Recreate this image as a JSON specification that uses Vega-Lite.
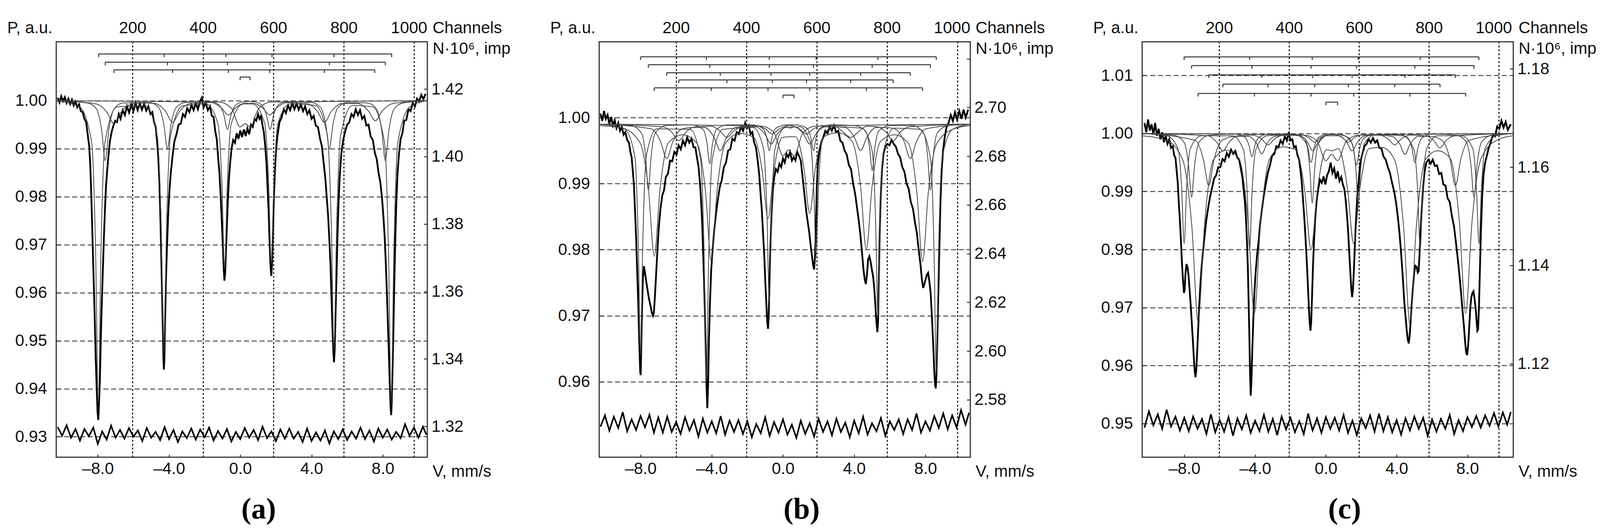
{
"$schema":"https://vega.github.io/schema/vega-lite/v6.json",
"background":"white",
"padding":{"left":16,"top":48,"right":5,"bottom":5},
"spacing":440,
"bounds":"flush",
"config":{
"view":{"stroke":"#333","strokeWidth":3},
"axis":{"labelFont":"Liberation Sans","labelFontSize":42,"labelColor":"#111","titleFont":"Liberation Sans","titleFontSize":42,"titleFontWeight":"normal","titleColor":"#111","domain":false,"tickColor":"#333","tickWidth":2.5,"labelOverlap":false}
},
"datasets":{
"ae":[{"v":-10.25,"p":1.0006},{"v":-10.15,"p":0.9996},{"v":-10.05,"p":1.0009},{"v":-9.95,"p":0.9999},{"v":-9.85,"p":1.0007},{"v":-9.75,"p":0.9995},{"v":-9.65,"p":1.0004},{"v":-9.55,"p":0.9993},{"v":-9.45,"p":1.0002},{"v":-9.35,"p":0.999},{"v":-9.25,"p":0.9998},{"v":-9.15,"p":0.9986},{"v":-9.05,"p":0.9992},{"v":-8.95,"p":0.9978},{"v":-8.85,"p":0.9976},{"v":-8.75,"p":0.9962},{"v":-8.65,"p":0.9955},{"v":-8.55,"p":0.9925},{"v":-8.48,"p":0.9905},{"v":-8.42,"p":0.9865},{"v":-8.36,"p":0.98},{"v":-8.3,"p":0.972},{"v":-8.24,"p":0.964},{"v":-8.18,"p":0.956},{"v":-8.12,"p":0.947},{"v":-8.06,"p":0.94},{"v":-8.01,"p":0.935},{"v":-7.97,"p":0.9335},{"v":-7.93,"p":0.937},{"v":-7.88,"p":0.942},{"v":-7.83,"p":0.95},{"v":-7.78,"p":0.957},{"v":-7.72,"p":0.964},{"v":-7.66,"p":0.971},{"v":-7.6,"p":0.977},{"v":-7.54,"p":0.982},{"v":-7.47,"p":0.9855},{"v":-7.4,"p":0.9885},{"v":-7.32,"p":0.9915},{"v":-7.22,"p":0.9935},{"v":-7.12,"p":0.9948},{"v":-7.02,"p":0.9958},{"v":-6.92,"p":0.9955},{"v":-6.82,"p":0.9972},{"v":-6.72,"p":0.9962},{"v":-6.6,"p":0.998},{"v":-6.48,"p":0.997},{"v":-6.36,"p":0.9988},{"v":-6.24,"p":0.9975},{"v":-6.12,"p":0.9992},{"v":-6,"p":0.9978},{"v":-5.88,"p":0.9995},{"v":-5.76,"p":0.998},{"v":-5.64,"p":0.9994},{"v":-5.52,"p":0.9981},{"v":-5.4,"p":0.9993},{"v":-5.28,"p":0.9979},{"v":-5.16,"p":0.9988},{"v":-5.04,"p":0.9972},{"v":-4.94,"p":0.9976},{"v":-4.84,"p":0.9955},{"v":-4.75,"p":0.9945},{"v":-4.67,"p":0.9915},{"v":-4.6,"p":0.988},{"v":-4.54,"p":0.983},{"v":-4.48,"p":0.975},{"v":-4.42,"p":0.965},{"v":-4.37,"p":0.956},{"v":-4.32,"p":0.947},{"v":-4.29,"p":0.944},{"v":-4.26,"p":0.946},{"v":-4.22,"p":0.954},{"v":-4.17,"p":0.963},{"v":-4.11,"p":0.97},{"v":-4.05,"p":0.976},{"v":-3.98,"p":0.981},{"v":-3.9,"p":0.985},{"v":-3.8,"p":0.9885},{"v":-3.7,"p":0.9915},{"v":-3.58,"p":0.993},{"v":-3.46,"p":0.995},{"v":-3.34,"p":0.9952},{"v":-3.22,"p":0.9972},{"v":-3.1,"p":0.9966},{"v":-2.98,"p":0.9984},{"v":-2.86,"p":0.9976},{"v":-2.74,"p":0.9991},{"v":-2.62,"p":0.998},{"v":-2.5,"p":0.9995},{"v":-2.38,"p":0.9982},{"v":-2.26,"p":0.9998},{"v":-2.16,"p":1.0006},{"v":-2.06,"p":0.9986},{"v":-1.94,"p":0.9996},{"v":-1.82,"p":0.998},{"v":-1.7,"p":0.9988},{"v":-1.6,"p":0.9968},{"v":-1.5,"p":0.9966},{"v":-1.4,"p":0.9935},{"v":-1.32,"p":0.992},{"v":-1.24,"p":0.988},{"v":-1.17,"p":0.985},{"v":-1.1,"p":0.98},{"v":-1.04,"p":0.975},{"v":-0.98,"p":0.97},{"v":-0.93,"p":0.965},{"v":-0.89,"p":0.9625},{"v":-0.85,"p":0.964},{"v":-0.8,"p":0.969},{"v":-0.75,"p":0.974},{"v":-0.7,"p":0.979},{"v":-0.64,"p":0.9835},{"v":-0.57,"p":0.987},{"v":-0.49,"p":0.99},{"v":-0.4,"p":0.9918},{"v":-0.3,"p":0.9912},{"v":-0.2,"p":0.9932},{"v":-0.1,"p":0.992},{"v":0,"p":0.9938},{"v":0.1,"p":0.9924},{"v":0.2,"p":0.994},{"v":0.3,"p":0.9926},{"v":0.4,"p":0.9942},{"v":0.5,"p":0.993},{"v":0.6,"p":0.995},{"v":0.7,"p":0.9945},{"v":0.8,"p":0.9962},{"v":0.9,"p":0.9958},{"v":1,"p":0.9972},{"v":1.08,"p":0.9962},{"v":1.16,"p":0.9968},{"v":1.24,"p":0.995},{"v":1.32,"p":0.9935},{"v":1.4,"p":0.9905},{"v":1.47,"p":0.987},{"v":1.53,"p":0.982},{"v":1.59,"p":0.977},{"v":1.64,"p":0.971},{"v":1.69,"p":0.966},{"v":1.74,"p":0.9635},{"v":1.78,"p":0.966},{"v":1.83,"p":0.972},{"v":1.88,"p":0.979},{"v":1.94,"p":0.985},{"v":2.01,"p":0.99},{"v":2.1,"p":0.993},{"v":2.2,"p":0.9955},{"v":2.32,"p":0.9965},{"v":2.44,"p":0.9982},{"v":2.56,"p":0.9974},{"v":2.68,"p":0.999},{"v":2.8,"p":0.998},{"v":2.92,"p":0.9995},{"v":3.04,"p":0.9982},{"v":3.16,"p":0.9994},{"v":3.28,"p":0.9981},{"v":3.4,"p":0.9992},{"v":3.52,"p":0.9978},{"v":3.64,"p":0.9988},{"v":3.76,"p":0.9972},{"v":3.88,"p":0.998},{"v":4,"p":0.9962},{"v":4.12,"p":0.9968},{"v":4.24,"p":0.9948},{"v":4.36,"p":0.9945},{"v":4.48,"p":0.992},{"v":4.58,"p":0.9905},{"v":4.68,"p":0.987},{"v":4.77,"p":0.984},{"v":4.85,"p":0.98},{"v":4.93,"p":0.976},{"v":5,"p":0.971},{"v":5.06,"p":0.966},{"v":5.12,"p":0.959},{"v":5.17,"p":0.953},{"v":5.22,"p":0.948},{"v":5.26,"p":0.9455},{"v":5.3,"p":0.948},{"v":5.35,"p":0.956},{"v":5.4,"p":0.963},{"v":5.45,"p":0.971},{"v":5.51,"p":0.978},{"v":5.58,"p":0.984},{"v":5.66,"p":0.9885},{"v":5.76,"p":0.9915},{"v":5.88,"p":0.9935},{"v":6,"p":0.995},{"v":6.12,"p":0.9955},{"v":6.24,"p":0.9972},{"v":6.36,"p":0.9966},{"v":6.48,"p":0.9982},{"v":6.6,"p":0.997},{"v":6.72,"p":0.998},{"v":6.84,"p":0.9962},{"v":6.96,"p":0.9968},{"v":7.08,"p":0.9948},{"v":7.2,"p":0.995},{"v":7.32,"p":0.9925},{"v":7.44,"p":0.9918},{"v":7.56,"p":0.989},{"v":7.66,"p":0.9878},{"v":7.76,"p":0.985},{"v":7.86,"p":0.983},{"v":7.95,"p":0.98},{"v":8.03,"p":0.976},{"v":8.1,"p":0.972},{"v":8.17,"p":0.966},{"v":8.23,"p":0.96},{"v":8.29,"p":0.953},{"v":8.35,"p":0.946},{"v":8.4,"p":0.94},{"v":8.44,"p":0.936},{"v":8.47,"p":0.9345},{"v":8.5,"p":0.937},{"v":8.54,"p":0.943},{"v":8.59,"p":0.951},{"v":8.64,"p":0.961},{"v":8.7,"p":0.971},{"v":8.76,"p":0.979},{"v":8.83,"p":0.985},{"v":8.91,"p":0.989},{"v":9,"p":0.992},{"v":9.1,"p":0.9932},{"v":9.2,"p":0.9958},{"v":9.32,"p":0.996},{"v":9.44,"p":0.9982},{"v":9.56,"p":0.9978},{"v":9.68,"p":0.9995},{"v":9.8,"p":0.9988},{"v":9.92,"p":1.0004},{"v":10.04,"p":0.9998},{"v":10.16,"p":1.0012},{"v":10.28,"p":1.0003},{"v":10.4,"p":1.0014}],
"ar":[{"v":-10.25,"p":0.932},{"v":-10,"p":0.9302},{"v":-9.75,"p":0.9324},{"v":-9.5,"p":0.9298},{"v":-9.25,"p":0.9316},{"v":-9,"p":0.9292},{"v":-8.75,"p":0.9316},{"v":-8.5,"p":0.9301},{"v":-8.25,"p":0.9319},{"v":-8,"p":0.9285},{"v":-7.75,"p":0.9311},{"v":-7.5,"p":0.9294},{"v":-7.25,"p":0.9323},{"v":-7,"p":0.9298},{"v":-6.75,"p":0.9314},{"v":-6.5,"p":0.9296},{"v":-6.25,"p":0.9318},{"v":-6,"p":0.93},{"v":-5.75,"p":0.9313},{"v":-5.5,"p":0.9291},{"v":-5.25,"p":0.9318},{"v":-5,"p":0.9298},{"v":-4.75,"p":0.931},{"v":-4.5,"p":0.9293},{"v":-4.25,"p":0.932},{"v":-4,"p":0.9295},{"v":-3.75,"p":0.9314},{"v":-3.5,"p":0.9289},{"v":-3.25,"p":0.9311},{"v":-3,"p":0.9297},{"v":-2.75,"p":0.9317},{"v":-2.5,"p":0.9294},{"v":-2.25,"p":0.9315},{"v":-2,"p":0.9299},{"v":-1.75,"p":0.9319},{"v":-1.5,"p":0.9292},{"v":-1.25,"p":0.9312},{"v":-1,"p":0.9296},{"v":-0.75,"p":0.9316},{"v":-0.5,"p":0.929},{"v":-0.25,"p":0.931},{"v":0,"p":0.9295},{"v":0.25,"p":0.9318},{"v":0.5,"p":0.9298},{"v":0.75,"p":0.9314},{"v":1,"p":0.9293},{"v":1.25,"p":0.9321},{"v":1.5,"p":0.9297},{"v":1.75,"p":0.9311},{"v":2,"p":0.9291},{"v":2.25,"p":0.9315},{"v":2.5,"p":0.9296},{"v":2.75,"p":0.9317},{"v":3,"p":0.9296},{"v":3.25,"p":0.931},{"v":3.5,"p":0.9289},{"v":3.75,"p":0.9317},{"v":4,"p":0.9291},{"v":4.25,"p":0.9309},{"v":4.5,"p":0.9292},{"v":4.75,"p":0.9313},{"v":5,"p":0.9286},{"v":5.25,"p":0.9311},{"v":5.5,"p":0.9295},{"v":5.75,"p":0.9315},{"v":6,"p":0.9293},{"v":6.25,"p":0.9311},{"v":6.5,"p":0.9296},{"v":6.75,"p":0.9319},{"v":7,"p":0.9295},{"v":7.25,"p":0.9313},{"v":7.5,"p":0.929},{"v":7.75,"p":0.9317},{"v":8,"p":0.9298},{"v":8.25,"p":0.9315},{"v":8.5,"p":0.9294},{"v":8.75,"p":0.931},{"v":9,"p":0.9297},{"v":9.25,"p":0.9326},{"v":9.5,"p":0.9302},{"v":9.75,"p":0.9319},{"v":10,"p":0.9298},{"v":10.25,"p":0.9321},{"v":10.45,"p":0.9304}],
"ac":[{"k":"1","v":-10.33,"p":1},{"k":"1","v":-9.02,"p":0.9987},{"k":"1","v":-8.345,"p":0.9913},{"k":"1","v":-8.12,"p":0.9685},{"k":"1","v":-7.97,"p":0.937},{"k":"1","v":-7.82,"p":0.9685},{"k":"1","v":-7.595,"p":0.9913},{"k":"1","v":-6.92,"p":0.9987},{"k":"1","v":-5.34,"p":0.9989},{"k":"1","v":-4.665,"p":0.9927},{"k":"1","v":-4.44,"p":0.9735},{"k":"1","v":-4.29,"p":0.947},{"k":"1","v":-4.14,"p":0.9735},{"k":"1","v":-3.915,"p":0.9927},{"k":"1","v":-3.24,"p":0.9989},{"k":"1","v":-1.93,"p":0.9993},{"k":"1","v":-1.255,"p":0.9952},{"k":"1","v":-1.03,"p":0.9825},{"k":"1","v":-0.88,"p":0.965},{"k":"1","v":-0.73,"p":0.9825},{"k":"1","v":-0.505,"p":0.9952},{"k":"1","v":0.17,"p":0.9993},{"k":"1","v":0.69,"p":0.9993},{"k":"1","v":1.365,"p":0.9953},{"k":"1","v":1.59,"p":0.983},{"k":"1","v":1.74,"p":0.966},{"k":"1","v":1.89,"p":0.983},{"k":"1","v":2.115,"p":0.9953},{"k":"1","v":2.79,"p":0.9993},{"k":"1","v":4.21,"p":0.999},{"k":"1","v":4.885,"p":0.9928},{"k":"1","v":5.11,"p":0.974},{"k":"1","v":5.26,"p":0.948},{"k":"1","v":5.41,"p":0.974},{"k":"1","v":5.635,"p":0.9928},{"k":"1","v":6.31,"p":0.999},{"k":"1","v":7.42,"p":0.9987},{"k":"1","v":8.095,"p":0.9913},{"k":"1","v":8.32,"p":0.9685},{"k":"1","v":8.47,"p":0.937},{"k":"1","v":8.62,"p":0.9685},{"k":"1","v":8.845,"p":0.9913},{"k":"1","v":9.52,"p":0.9987},{"k":"1","v":10.5,"p":1},
{"k":"2","v":-10.33,"p":1},{"k":"2","v":-8.58,"p":0.9995},{"k":"2","v":-8.08,"p":0.9983},{"k":"2","v":-7.78,"p":0.9938},{"k":"2","v":-7.58,"p":0.9875},{"k":"2","v":-7.38,"p":0.9938},{"k":"2","v":-7.08,"p":0.9983},{"k":"2","v":-6.58,"p":0.9995},{"k":"2","v":-5.09,"p":0.9996},{"k":"2","v":-4.59,"p":0.9986},{"k":"2","v":-4.29,"p":0.995},{"k":"2","v":-4.09,"p":0.99},{"k":"2","v":-3.89,"p":0.995},{"k":"2","v":-3.59,"p":0.9986},{"k":"2","v":-3.09,"p":0.9996},{"k":"2","v":-1.72,"p":0.9998},{"k":"2","v":-1.22,"p":0.9992},{"k":"2","v":-0.92,"p":0.997},{"k":"2","v":-0.72,"p":0.994},{"k":"2","v":-0.52,"p":0.997},{"k":"2","v":-0.22,"p":0.9992},{"k":"2","v":0.28,"p":0.9998},{"k":"2","v":0.67,"p":0.9998},{"k":"2","v":1.17,"p":0.9992},{"k":"2","v":1.47,"p":0.997},{"k":"2","v":1.67,"p":0.994},{"k":"2","v":1.87,"p":0.997},{"k":"2","v":2.17,"p":0.9992},{"k":"2","v":2.67,"p":0.9998},{"k":"2","v":4,"p":0.9996},{"k":"2","v":4.5,"p":0.9986},{"k":"2","v":4.8,"p":0.995},{"k":"2","v":5,"p":0.99},{"k":"2","v":5.2,"p":0.995},{"k":"2","v":5.5,"p":0.9986},{"k":"2","v":6,"p":0.9996},{"k":"2","v":7.14,"p":0.9995},{"k":"2","v":7.64,"p":0.9983},{"k":"2","v":7.94,"p":0.9938},{"k":"2","v":8.14,"p":0.9875},{"k":"2","v":8.34,"p":0.9938},{"k":"2","v":8.64,"p":0.9983},{"k":"2","v":9.14,"p":0.9995},{"k":"2","v":10.5,"p":1},
{"k":"3","v":-10.33,"p":1},{"k":"3","v":-8.09,"p":0.9993},{"k":"3","v":-7.49,"p":0.9976},{"k":"3","v":-7.09,"p":0.9952},{"k":"3","v":-6.69,"p":0.9976},{"k":"3","v":-6.09,"p":0.9993},{"k":"3","v":-5.445,"p":0.9995},{"k":"3","v":-4.8,"p":0.9994},{"k":"3","v":-4.2,"p":0.9978},{"k":"3","v":-3.8,"p":0.9955},{"k":"3","v":-3.4,"p":0.9978},{"k":"3","v":-2.8,"p":0.9994},{"k":"3","v":-2.235,"p":0.9995},{"k":"3","v":-1.67,"p":0.9996},{"k":"3","v":-1.07,"p":0.9985},{"k":"3","v":-0.67,"p":0.997},{"k":"3","v":-0.27,"p":0.9985},{"k":"3","v":0.33,"p":0.9995},{"k":"3","v":0.49,"p":0.9994},{"k":"3","v":0.65,"p":0.9995},{"k":"3","v":1.25,"p":0.9985},{"k":"3","v":1.65,"p":0.997},{"k":"3","v":2.05,"p":0.9985},{"k":"3","v":2.65,"p":0.9996},{"k":"3","v":3.185,"p":0.9995},{"k":"3","v":3.72,"p":0.9994},{"k":"3","v":4.32,"p":0.9978},{"k":"3","v":4.72,"p":0.9955},{"k":"3","v":5.12,"p":0.9978},{"k":"3","v":5.72,"p":0.9994},{"k":"3","v":6.15,"p":0.9994},{"k":"3","v":6.58,"p":0.9994},{"k":"3","v":7.18,"p":0.9979},{"k":"3","v":7.58,"p":0.9958},{"k":"3","v":7.98,"p":0.9979},{"k":"3","v":8.58,"p":0.9994},{"k":"3","v":10.5,"p":1},
{"k":"d","v":-10.33,"p":1},{"k":"d","v":-1.2,"p":0.9997},{"k":"d","v":-0.5,"p":0.9984},{"k":"d","v":-0.01,"p":0.9945},{"k":"d","v":0.27,"p":0.9952},{"k":"d","v":0.55,"p":0.9945},{"k":"d","v":1.04,"p":0.9984},{"k":"d","v":1.75,"p":0.9997},{"k":"d","v":10.5,"p":1}],
"ab":[{"v":-7.95,"p":1.0097},{"v":-4.27,"p":1.0097},{"v":-0.81,"p":1.0097},{"v":1.78,"p":1.0097},{"v":5.26,"p":1.0097},{"v":8.5,"p":1.0097},{"v":-7.58,"p":1.008},{"v":-4.09,"p":1.008},{"v":-0.72,"p":1.008},{"v":1.67,"p":1.008},{"v":5,"p":1.008},{"v":8.14,"p":1.008},{"v":-7.09,"p":1.0064},{"v":-3.8,"p":1.0064},{"v":-0.67,"p":1.0064},{"v":1.65,"p":1.0064},{"v":4.72,"p":1.0064},{"v":7.55,"p":1.0064},{"v":-0.01,"p":1.0049},{"v":0.55,"p":1.0049}],
"be":[{"v":-10.25,"p":1.0006},{"v":-10.15,"p":0.9995},{"v":-10.05,"p":1.001},{"v":-9.95,"p":0.9998},{"v":-9.85,"p":1.0004},{"v":-9.75,"p":0.999},{"v":-9.65,"p":1.0001},{"v":-9.55,"p":0.9988},{"v":-9.45,"p":0.9996},{"v":-9.35,"p":0.9984},{"v":-9.25,"p":0.9992},{"v":-9.15,"p":0.998},{"v":-9.05,"p":0.9986},{"v":-8.95,"p":0.9974},{"v":-8.85,"p":0.9978},{"v":-8.75,"p":0.9966},{"v":-8.65,"p":0.9962},{"v":-8.57,"p":0.9948},{"v":-8.5,"p":0.994},{"v":-8.43,"p":0.9918},{"v":-8.37,"p":0.9898},{"v":-8.31,"p":0.986},{"v":-8.25,"p":0.982},{"v":-8.19,"p":0.977},{"v":-8.13,"p":0.972},{"v":-8.07,"p":0.966},{"v":-8.02,"p":0.9615},{"v":-7.99,"p":0.961},{"v":-7.96,"p":0.965},{"v":-7.92,"p":0.9705},{"v":-7.87,"p":0.9755},{"v":-7.81,"p":0.9775},{"v":-7.75,"p":0.9765},{"v":-7.68,"p":0.9752},{"v":-7.6,"p":0.9738},{"v":-7.52,"p":0.9725},{"v":-7.44,"p":0.9715},{"v":-7.37,"p":0.9705},{"v":-7.3,"p":0.97},{"v":-7.25,"p":0.9705},{"v":-7.19,"p":0.973},{"v":-7.12,"p":0.9765},{"v":-7.05,"p":0.98},{"v":-6.97,"p":0.9835},{"v":-6.88,"p":0.9862},{"v":-6.78,"p":0.9882},{"v":-6.68,"p":0.989},{"v":-6.58,"p":0.991},{"v":-6.46,"p":0.9915},{"v":-6.34,"p":0.9935},{"v":-6.22,"p":0.9934},{"v":-6.1,"p":0.9948},{"v":-5.98,"p":0.9944},{"v":-5.86,"p":0.9958},{"v":-5.74,"p":0.9952},{"v":-5.62,"p":0.9965},{"v":-5.5,"p":0.9958},{"v":-5.38,"p":0.997},{"v":-5.26,"p":0.9962},{"v":-5.14,"p":0.9968},{"v":-5.02,"p":0.9955},{"v":-4.92,"p":0.9955},{"v":-4.82,"p":0.9938},{"v":-4.74,"p":0.9925},{"v":-4.66,"p":0.99},{"v":-4.6,"p":0.9875},{"v":-4.54,"p":0.984},{"v":-4.49,"p":0.98},{"v":-4.44,"p":0.976},{"v":-4.39,"p":0.971},{"v":-4.34,"p":0.965},{"v":-4.29,"p":0.959},{"v":-4.25,"p":0.956},{"v":-4.21,"p":0.959},{"v":-4.16,"p":0.966},{"v":-4.1,"p":0.972},{"v":-4.03,"p":0.977},{"v":-3.95,"p":0.98},{"v":-3.86,"p":0.983},{"v":-3.76,"p":0.9855},{"v":-3.66,"p":0.9875},{"v":-3.55,"p":0.9895},{"v":-3.44,"p":0.9905},{"v":-3.32,"p":0.9925},{"v":-3.2,"p":0.9932},{"v":-3.08,"p":0.995},{"v":-2.96,"p":0.9952},{"v":-2.84,"p":0.9968},{"v":-2.72,"p":0.9965},{"v":-2.6,"p":0.9978},{"v":-2.48,"p":0.9975},{"v":-2.36,"p":0.9986},{"v":-2.24,"p":0.998},{"v":-2.12,"p":0.9992},{"v":-2.02,"p":0.9984},{"v":-1.92,"p":0.9988},{"v":-1.82,"p":0.9975},{"v":-1.72,"p":0.9978},{"v":-1.62,"p":0.9962},{"v":-1.52,"p":0.9955},{"v":-1.42,"p":0.9935},{"v":-1.34,"p":0.9915},{"v":-1.26,"p":0.9885},{"v":-1.19,"p":0.986},{"v":-1.12,"p":0.9825},{"v":-1.05,"p":0.979},{"v":-0.99,"p":0.975},{"v":-0.93,"p":0.9715},{"v":-0.88,"p":0.969},{"v":-0.84,"p":0.968},{"v":-0.8,"p":0.97},{"v":-0.75,"p":0.976},{"v":-0.7,"p":0.981},{"v":-0.64,"p":0.9855},{"v":-0.57,"p":0.989},{"v":-0.49,"p":0.991},{"v":-0.4,"p":0.9922},{"v":-0.3,"p":0.9918},{"v":-0.2,"p":0.993},{"v":-0.1,"p":0.9925},{"v":0,"p":0.9938},{"v":0.1,"p":0.9932},{"v":0.2,"p":0.9945},{"v":0.3,"p":0.994},{"v":0.4,"p":0.9948},{"v":0.5,"p":0.9935},{"v":0.6,"p":0.994},{"v":0.7,"p":0.9935},{"v":0.8,"p":0.9948},{"v":0.9,"p":0.9942},{"v":1,"p":0.9935},{"v":1.08,"p":0.9915},{"v":1.16,"p":0.9895},{"v":1.24,"p":0.9875},{"v":1.32,"p":0.9855},{"v":1.4,"p":0.984},{"v":1.48,"p":0.9825},{"v":1.56,"p":0.9805},{"v":1.63,"p":0.979},{"v":1.7,"p":0.9775},{"v":1.75,"p":0.977},{"v":1.8,"p":0.979},{"v":1.85,"p":0.984},{"v":1.9,"p":0.9895},{"v":1.96,"p":0.993},{"v":2.04,"p":0.995},{"v":2.14,"p":0.9962},{"v":2.26,"p":0.997},{"v":2.38,"p":0.998},{"v":2.5,"p":0.9976},{"v":2.62,"p":0.9986},{"v":2.74,"p":0.998},{"v":2.86,"p":0.9988},{"v":2.98,"p":0.9978},{"v":3.1,"p":0.998},{"v":3.22,"p":0.9965},{"v":3.34,"p":0.9962},{"v":3.46,"p":0.995},{"v":3.58,"p":0.9944},{"v":3.7,"p":0.9928},{"v":3.82,"p":0.9922},{"v":3.94,"p":0.99},{"v":4.05,"p":0.9885},{"v":4.15,"p":0.9865},{"v":4.25,"p":0.9845},{"v":4.35,"p":0.9822},{"v":4.44,"p":0.9795},{"v":4.52,"p":0.977},{"v":4.59,"p":0.9755},{"v":4.65,"p":0.9748},{"v":4.71,"p":0.976},{"v":4.78,"p":0.9785},{"v":4.85,"p":0.979},{"v":4.92,"p":0.9782},{"v":4.99,"p":0.977},{"v":5.06,"p":0.976},{"v":5.13,"p":0.974},{"v":5.19,"p":0.9715},{"v":5.25,"p":0.969},{"v":5.3,"p":0.9675},{"v":5.34,"p":0.969},{"v":5.38,"p":0.975},{"v":5.43,"p":0.982},{"v":5.49,"p":0.988},{"v":5.56,"p":0.992},{"v":5.64,"p":0.9945},{"v":5.74,"p":0.9955},{"v":5.86,"p":0.996},{"v":5.98,"p":0.9958},{"v":6.1,"p":0.9966},{"v":6.22,"p":0.996},{"v":6.34,"p":0.9956},{"v":6.46,"p":0.9945},{"v":6.58,"p":0.994},{"v":6.7,"p":0.9925},{"v":6.82,"p":0.9918},{"v":6.94,"p":0.99},{"v":7.06,"p":0.9892},{"v":7.18,"p":0.9872},{"v":7.3,"p":0.9862},{"v":7.42,"p":0.984},{"v":7.52,"p":0.9825},{"v":7.62,"p":0.98},{"v":7.72,"p":0.9778},{"v":7.8,"p":0.9755},{"v":7.87,"p":0.9742},{"v":7.94,"p":0.9748},{"v":8.01,"p":0.9755},{"v":8.08,"p":0.9762},{"v":8.15,"p":0.9765},{"v":8.22,"p":0.9752},{"v":8.29,"p":0.9735},{"v":8.36,"p":0.97},{"v":8.43,"p":0.966},{"v":8.49,"p":0.962},{"v":8.54,"p":0.9595},{"v":8.58,"p":0.959},{"v":8.62,"p":0.961},{"v":8.67,"p":0.9665},{"v":8.72,"p":0.973},{"v":8.78,"p":0.98},{"v":8.84,"p":0.987},{"v":8.91,"p":0.992},{"v":8.99,"p":0.995},{"v":9.08,"p":0.997},{"v":9.18,"p":0.9985},{"v":9.3,"p":0.9992},{"v":9.42,"p":1.0004},{"v":9.54,"p":0.9995},{"v":9.66,"p":1.0008},{"v":9.78,"p":0.9997},{"v":9.9,"p":1.001},{"v":10.02,"p":0.9998},{"v":10.14,"p":1.0012},{"v":10.26,"p":1},{"v":10.4,"p":1.0012}],
"br":[{"v":-10.25,"p":0.9532},{"v":-10,"p":0.9549},{"v":-9.75,"p":0.9526},{"v":-9.5,"p":0.9547},{"v":-9.25,"p":0.953},{"v":-9,"p":0.9554},{"v":-8.75,"p":0.9525},{"v":-8.5,"p":0.9543},{"v":-8.25,"p":0.9527},{"v":-8,"p":0.9548},{"v":-7.75,"p":0.9531},{"v":-7.5,"p":0.955},{"v":-7.25,"p":0.9523},{"v":-7,"p":0.9546},{"v":-6.75,"p":0.9523},{"v":-6.5,"p":0.9547},{"v":-6.25,"p":0.9524},{"v":-6,"p":0.9539},{"v":-5.75,"p":0.9521},{"v":-5.5,"p":0.9546},{"v":-5.25,"p":0.9526},{"v":-5,"p":0.9542},{"v":-4.75,"p":0.9517},{"v":-4.5,"p":0.9544},{"v":-4.25,"p":0.9523},{"v":-4,"p":0.954},{"v":-3.75,"p":0.9522},{"v":-3.5,"p":0.9548},{"v":-3.25,"p":0.952},{"v":-3,"p":0.9541},{"v":-2.75,"p":0.9524},{"v":-2.5,"p":0.9542},{"v":-2.25,"p":0.9521},{"v":-2,"p":0.954},{"v":-1.75,"p":0.9516},{"v":-1.5,"p":0.9536},{"v":-1.25,"p":0.9522},{"v":-1,"p":0.9546},{"v":-0.75,"p":0.9518},{"v":-0.5,"p":0.9539},{"v":-0.25,"p":0.9523},{"v":0,"p":0.9543},{"v":0.25,"p":0.952},{"v":0.5,"p":0.9535},{"v":0.75,"p":0.9515},{"v":1,"p":0.9541},{"v":1.25,"p":0.9521},{"v":1.5,"p":0.9537},{"v":1.75,"p":0.9517},{"v":2,"p":0.9544},{"v":2.25,"p":0.9524},{"v":2.5,"p":0.954},{"v":2.75,"p":0.9519},{"v":3,"p":0.9544},{"v":3.25,"p":0.9524},{"v":3.5,"p":0.9538},{"v":3.75,"p":0.9516},{"v":4,"p":0.9541},{"v":4.25,"p":0.9522},{"v":4.5,"p":0.9547},{"v":4.75,"p":0.952},{"v":5,"p":0.9537},{"v":5.25,"p":0.9525},{"v":5.5,"p":0.9545},{"v":5.75,"p":0.9518},{"v":6,"p":0.954},{"v":6.25,"p":0.9527},{"v":6.5,"p":0.9543},{"v":6.75,"p":0.9521},{"v":7,"p":0.9543},{"v":7.25,"p":0.9527},{"v":7.5,"p":0.9552},{"v":7.75,"p":0.9523},{"v":8,"p":0.954},{"v":8.25,"p":0.9526},{"v":8.5,"p":0.9548},{"v":8.75,"p":0.953},{"v":9,"p":0.9552},{"v":9.25,"p":0.9528},{"v":9.5,"p":0.9549},{"v":9.75,"p":0.9531},{"v":10,"p":0.9557},{"v":10.25,"p":0.9535},{"v":10.45,"p":0.9553}],
"bc":[{"k":"1","v":-10.32,"p":0.999},{"k":"1","v":-8.91,"p":0.9983},{"k":"1","v":-8.325,"p":0.9942},{"k":"1","v":-8.13,"p":0.9815},{"k":"1","v":-8,"p":0.964},{"k":"1","v":-7.87,"p":0.9815},{"k":"1","v":-7.675,"p":0.9942},{"k":"1","v":-7.09,"p":0.9983},{"k":"1","v":-5.21,"p":0.9982},{"k":"1","v":-4.625,"p":0.9936},{"k":"1","v":-4.43,"p":0.9795},{"k":"1","v":-4.3,"p":0.96},{"k":"1","v":-4.17,"p":0.9795},{"k":"1","v":-3.975,"p":0.9936},{"k":"1","v":-3.39,"p":0.9982},{"k":"1","v":-1.68,"p":0.9985},{"k":"1","v":-1.095,"p":0.9953},{"k":"1","v":-0.9,"p":0.9855},{"k":"1","v":-0.77,"p":0.972},{"k":"1","v":-0.64,"p":0.9855},{"k":"1","v":-0.445,"p":0.9953},{"k":"1","v":0.14,"p":0.9985},{"k":"1","v":0.95,"p":0.9986},{"k":"1","v":1.535,"p":0.9962},{"k":"1","v":1.73,"p":0.989},{"k":"1","v":1.86,"p":0.979},{"k":"1","v":1.99,"p":0.989},{"k":"1","v":2.185,"p":0.9962},{"k":"1","v":2.77,"p":0.9986},{"k":"1","v":4.42,"p":0.9984},{"k":"1","v":5.005,"p":0.995},{"k":"1","v":5.2,"p":0.9845},{"k":"1","v":5.33,"p":0.97},{"k":"1","v":5.46,"p":0.9845},{"k":"1","v":5.655,"p":0.995},{"k":"1","v":6.24,"p":0.9984},{"k":"1","v":7.7,"p":0.9982},{"k":"1","v":8.285,"p":0.9938},{"k":"1","v":8.48,"p":0.9802},{"k":"1","v":8.61,"p":0.9614},{"k":"1","v":8.74,"p":0.9802},{"k":"1","v":8.935,"p":0.9938},{"k":"1","v":9.52,"p":0.9982},{"k":"1","v":10.52,"p":0.999},
{"k":"2","v":-10.32,"p":0.999},{"k":"2","v":-8.56,"p":0.9988},{"k":"2","v":-7.935,"p":0.9976},{"k":"2","v":-7.71,"p":0.994},{"k":"2","v":-7.56,"p":0.989},{"k":"2","v":-7.41,"p":0.994},{"k":"2","v":-7.185,"p":0.9976},{"k":"2","v":-6.56,"p":0.9988},{"k":"2","v":-5.11,"p":0.9989},{"k":"2","v":-4.485,"p":0.9982},{"k":"2","v":-4.26,"p":0.996},{"k":"2","v":-4.11,"p":0.993},{"k":"2","v":-3.96,"p":0.996},{"k":"2","v":-3.735,"p":0.9982},{"k":"2","v":-3.11,"p":0.9989},{"k":"2","v":-1.77,"p":0.9989},{"k":"2","v":-1.145,"p":0.9984},{"k":"2","v":-0.92,"p":0.997},{"k":"2","v":-0.77,"p":0.995},{"k":"2","v":-0.62,"p":0.997},{"k":"2","v":-0.395,"p":0.9984},{"k":"2","v":0.23,"p":0.9989},{"k":"2","v":0.71,"p":0.9989},{"k":"2","v":1.335,"p":0.9984},{"k":"2","v":1.56,"p":0.997},{"k":"2","v":1.71,"p":0.995},{"k":"2","v":1.86,"p":0.997},{"k":"2","v":2.085,"p":0.9984},{"k":"2","v":2.71,"p":0.9989},{"k":"2","v":4.01,"p":0.9988},{"k":"2","v":4.635,"p":0.998},{"k":"2","v":4.86,"p":0.9955},{"k":"2","v":5.01,"p":0.992},{"k":"2","v":5.16,"p":0.9955},{"k":"2","v":5.385,"p":0.998},{"k":"2","v":6.01,"p":0.9988},{"k":"2","v":7.28,"p":0.9988},{"k":"2","v":7.905,"p":0.9976},{"k":"2","v":8.13,"p":0.994},{"k":"2","v":8.28,"p":0.989},{"k":"2","v":8.43,"p":0.994},{"k":"2","v":8.655,"p":0.9976},{"k":"2","v":9.28,"p":0.9988},{"k":"2","v":10.52,"p":0.999},
{"k":"3","v":-10.32,"p":0.999},{"k":"3","v":-7.405,"p":0.9983},{"k":"3","v":-6.88,"p":0.9964},{"k":"3","v":-6.53,"p":0.9938},{"k":"3","v":-6.18,"p":0.9964},{"k":"3","v":-5.655,"p":0.9983},{"k":"3","v":-5.025,"p":0.9985},{"k":"3","v":-4.395,"p":0.9985},{"k":"3","v":-3.87,"p":0.997},{"k":"3","v":-3.52,"p":0.995},{"k":"3","v":-3.17,"p":0.997},{"k":"3","v":-2.645,"p":0.9985},{"k":"3","v":-2.095,"p":0.9986},{"k":"3","v":-1.545,"p":0.9986},{"k":"3","v":-1.02,"p":0.9975},{"k":"3","v":-0.67,"p":0.996},{"k":"3","v":-0.32,"p":0.9975},{"k":"3","v":0.205,"p":0.9986},{"k":"3","v":0.415,"p":0.9984},{"k":"3","v":0.625,"p":0.9986},{"k":"3","v":1.15,"p":0.9975},{"k":"3","v":1.5,"p":0.996},{"k":"3","v":1.85,"p":0.9975},{"k":"3","v":2.375,"p":0.9986},{"k":"3","v":2.93,"p":0.9986},{"k":"3","v":3.485,"p":0.9985},{"k":"3","v":4.01,"p":0.997},{"k":"3","v":4.36,"p":0.995},{"k":"3","v":4.71,"p":0.997},{"k":"3","v":5.235,"p":0.9985},{"k":"3","v":5.755,"p":0.9985},{"k":"3","v":6.275,"p":0.9983},{"k":"3","v":6.8,"p":0.9964},{"k":"3","v":7.15,"p":0.9938},{"k":"3","v":7.5,"p":0.9964},{"k":"3","v":8.025,"p":0.9983},{"k":"3","v":10.52,"p":0.999},
{"k":"4","v":-10.32,"p":0.999},{"k":"4","v":-6.75,"p":0.9986},{"k":"4","v":-6.25,"p":0.9978},{"k":"4","v":-5.85,"p":0.9965},{"k":"4","v":-5.45,"p":0.9978},{"k":"4","v":-4.95,"p":0.9986},{"k":"4","v":-4.05,"p":0.9987},{"k":"4","v":-3.55,"p":0.998},{"k":"4","v":-3.15,"p":0.997},{"k":"4","v":-2.75,"p":0.998},{"k":"4","v":-2.25,"p":0.9987},{"k":"4","v":-1.5,"p":0.9988},{"k":"4","v":-1,"p":0.9983},{"k":"4","v":-0.6,"p":0.9975},{"k":"4","v":-0.2,"p":0.9983},{"k":"4","v":0.3,"p":0.9988},{"k":"4","v":0.42,"p":0.9988},{"k":"4","v":0.92,"p":0.9983},{"k":"4","v":1.32,"p":0.9975},{"k":"4","v":1.72,"p":0.9983},{"k":"4","v":2.22,"p":0.9988},{"k":"4","v":2.9,"p":0.9987},{"k":"4","v":3.3,"p":0.998},{"k":"4","v":3.8,"p":0.997},{"k":"4","v":4.3,"p":0.998},{"k":"4","v":4.7,"p":0.9987},{"k":"4","v":5.29,"p":0.9986},{"k":"4","v":5.79,"p":0.9978},{"k":"4","v":6.19,"p":0.9965},{"k":"4","v":6.59,"p":0.9978},{"k":"4","v":7.09,"p":0.9986},{"k":"4","v":10.52,"p":0.999},
{"k":"5","v":-10.32,"p":0.9988},{"k":"5","v":-9,"p":0.9984},{"k":"5","v":-8.03,"p":0.9962},{"k":"5","v":-7.55,"p":0.989},{"k":"5","v":-7.23,"p":0.979},{"k":"5","v":-6.91,"p":0.989},{"k":"5","v":-6.43,"p":0.9962},{"k":"5","v":-5.63,"p":0.9974},{"k":"5","v":-4.83,"p":0.9961},{"k":"5","v":-4.35,"p":0.9887},{"k":"5","v":-4.03,"p":0.9783},{"k":"5","v":-3.71,"p":0.9887},{"k":"5","v":-3.23,"p":0.9961},{"k":"5","v":-2.435,"p":0.9976},{"k":"5","v":-1.64,"p":0.997},{"k":"5","v":-1.16,"p":0.9918},{"k":"5","v":-0.84,"p":0.9847},{"k":"5","v":-0.52,"p":0.9918},{"k":"5","v":-0.04,"p":0.997},{"k":"5","v":0.33,"p":0.9971},{"k":"5","v":0.7,"p":0.9971},{"k":"5","v":1.18,"p":0.9923},{"k":"5","v":1.5,"p":0.9855},{"k":"5","v":1.82,"p":0.9923},{"k":"5","v":2.3,"p":0.9971},{"k":"5","v":3.09,"p":0.9977},{"k":"5","v":3.88,"p":0.9964},{"k":"5","v":4.36,"p":0.9895},{"k":"5","v":4.68,"p":0.98},{"k":"5","v":5,"p":0.9895},{"k":"5","v":5.48,"p":0.9964},{"k":"5","v":6.26,"p":0.9974},{"k":"5","v":7.04,"p":0.9961},{"k":"5","v":7.52,"p":0.9886},{"k":"5","v":7.84,"p":0.9782},{"k":"5","v":8.16,"p":0.9886},{"k":"5","v":8.64,"p":0.9961},{"k":"5","v":9.6,"p":0.9983},{"k":"5","v":10.52,"p":0.9988},
{"k":"d","v":-10.32,"p":0.999},{"k":"d","v":-1.2,"p":0.9987},{"k":"d","v":-0.5,"p":0.9977},{"k":"d","v":0,"p":0.9942},{"k":"d","v":0.31,"p":0.9951},{"k":"d","v":0.62,"p":0.9942},{"k":"d","v":1.12,"p":0.9977},{"k":"d","v":1.82,"p":0.9987},{"k":"d","v":10.52,"p":0.999}],
"bb":[{"v":-8,"p":1.0092},{"v":-4.3,"p":1.0092},{"v":-0.77,"p":1.0092},{"v":1.86,"p":1.0092},{"v":5.33,"p":1.0092},{"v":8.61,"p":1.0092},{"v":-7.56,"p":1.008},{"v":-4.11,"p":1.008},{"v":-0.77,"p":1.008},{"v":1.71,"p":1.008},{"v":5.01,"p":1.008},{"v":8.28,"p":1.008},{"v":-6.53,"p":1.0068},{"v":-3.52,"p":1.0068},{"v":-0.67,"p":1.0068},{"v":1.5,"p":1.0068},{"v":4.36,"p":1.0068},{"v":7.15,"p":1.0068},{"v":-5.85,"p":1.0057},{"v":-3.15,"p":1.0057},{"v":-0.6,"p":1.0057},{"v":1.32,"p":1.0057},{"v":3.8,"p":1.0057},{"v":6.19,"p":1.0057},{"v":-7.23,"p":1.0045},{"v":-4.03,"p":1.0045},{"v":-0.84,"p":1.0045},{"v":1.5,"p":1.0045},{"v":4.68,"p":1.0045},{"v":7.84,"p":1.0045},{"v":0,"p":1.0034},{"v":0.62,"p":1.0034}],
"ce":[{"v":-10.25,"p":1.0018},{"v":-10.15,"p":1.0002},{"v":-10.05,"p":1.0024},{"v":-9.95,"p":1.0005},{"v":-9.85,"p":1.0016},{"v":-9.75,"p":0.9998},{"v":-9.65,"p":1.0018},{"v":-9.55,"p":0.9996},{"v":-9.45,"p":1.0008},{"v":-9.35,"p":0.999},{"v":-9.25,"p":1.0002},{"v":-9.15,"p":0.9985},{"v":-9.05,"p":0.9996},{"v":-8.95,"p":0.9982},{"v":-8.85,"p":0.999},{"v":-8.75,"p":0.9975},{"v":-8.65,"p":0.9978},{"v":-8.57,"p":0.9962},{"v":-8.5,"p":0.9958},{"v":-8.43,"p":0.9935},{"v":-8.37,"p":0.9915},{"v":-8.31,"p":0.988},{"v":-8.25,"p":0.985},{"v":-8.19,"p":0.9815},{"v":-8.13,"p":0.9775},{"v":-8.07,"p":0.9745},{"v":-8.02,"p":0.9725},{"v":-7.98,"p":0.973},{"v":-7.93,"p":0.976},{"v":-7.88,"p":0.9775},{"v":-7.82,"p":0.977},{"v":-7.76,"p":0.9755},{"v":-7.7,"p":0.973},{"v":-7.64,"p":0.9705},{"v":-7.58,"p":0.9675},{"v":-7.52,"p":0.9645},{"v":-7.46,"p":0.9612},{"v":-7.41,"p":0.959},{"v":-7.37,"p":0.958},{"v":-7.33,"p":0.959},{"v":-7.28,"p":0.9618},{"v":-7.22,"p":0.966},{"v":-7.16,"p":0.97},{"v":-7.1,"p":0.9735},{"v":-7.03,"p":0.9766},{"v":-6.95,"p":0.9795},{"v":-6.86,"p":0.9822},{"v":-6.76,"p":0.985},{"v":-6.66,"p":0.987},{"v":-6.55,"p":0.989},{"v":-6.44,"p":0.9905},{"v":-6.32,"p":0.9922},{"v":-6.2,"p":0.9928},{"v":-6.08,"p":0.9942},{"v":-5.96,"p":0.9942},{"v":-5.84,"p":0.9956},{"v":-5.72,"p":0.9952},{"v":-5.6,"p":0.9966},{"v":-5.48,"p":0.996},{"v":-5.36,"p":0.9972},{"v":-5.24,"p":0.9965},{"v":-5.12,"p":0.997},{"v":-5,"p":0.9958},{"v":-4.9,"p":0.9955},{"v":-4.8,"p":0.9938},{"v":-4.72,"p":0.9925},{"v":-4.64,"p":0.99},{"v":-4.57,"p":0.988},{"v":-4.51,"p":0.985},{"v":-4.46,"p":0.9815},{"v":-4.41,"p":0.977},{"v":-4.37,"p":0.9715},{"v":-4.33,"p":0.966},{"v":-4.29,"p":0.9595},{"v":-4.25,"p":0.9548},{"v":-4.21,"p":0.957},{"v":-4.16,"p":0.9625},{"v":-4.1,"p":0.968},{"v":-4.04,"p":0.9725},{"v":-3.97,"p":0.976},{"v":-3.89,"p":0.979},{"v":-3.8,"p":0.9815},{"v":-3.71,"p":0.9845},{"v":-3.61,"p":0.987},{"v":-3.51,"p":0.9893},{"v":-3.4,"p":0.9912},{"v":-3.28,"p":0.9932},{"v":-3.16,"p":0.9945},{"v":-3.04,"p":0.9962},{"v":-2.92,"p":0.9964},{"v":-2.8,"p":0.9978},{"v":-2.68,"p":0.9976},{"v":-2.56,"p":0.9988},{"v":-2.44,"p":0.9982},{"v":-2.32,"p":0.9995},{"v":-2.2,"p":0.9988},{"v":-2.1,"p":1.0002},{"v":-2,"p":0.9988},{"v":-1.9,"p":0.999},{"v":-1.8,"p":0.9976},{"v":-1.7,"p":0.9978},{"v":-1.6,"p":0.9962},{"v":-1.51,"p":0.9955},{"v":-1.43,"p":0.9935},{"v":-1.36,"p":0.9915},{"v":-1.29,"p":0.9885},{"v":-1.22,"p":0.9855},{"v":-1.15,"p":0.982},{"v":-1.08,"p":0.978},{"v":-1.02,"p":0.974},{"v":-0.96,"p":0.97},{"v":-0.91,"p":0.9672},{"v":-0.87,"p":0.966},{"v":-0.83,"p":0.9675},{"v":-0.78,"p":0.972},{"v":-0.73,"p":0.977},{"v":-0.67,"p":0.9815},{"v":-0.6,"p":0.9855},{"v":-0.52,"p":0.9885},{"v":-0.43,"p":0.9905},{"v":-0.33,"p":0.992},{"v":-0.23,"p":0.9915},{"v":-0.13,"p":0.9926},{"v":-0.03,"p":0.9912},{"v":0.07,"p":0.9928},{"v":0.17,"p":0.9935},{"v":0.27,"p":0.995},{"v":0.37,"p":0.9932},{"v":0.47,"p":0.994},{"v":0.57,"p":0.9922},{"v":0.67,"p":0.9935},{"v":0.77,"p":0.9918},{"v":0.87,"p":0.9925},{"v":0.96,"p":0.9912},{"v":1.04,"p":0.9905},{"v":1.12,"p":0.9885},{"v":1.19,"p":0.986},{"v":1.26,"p":0.983},{"v":1.32,"p":0.9795},{"v":1.38,"p":0.9762},{"v":1.43,"p":0.9735},{"v":1.48,"p":0.9718},{"v":1.53,"p":0.973},{"v":1.59,"p":0.977},{"v":1.65,"p":0.9815},{"v":1.71,"p":0.9855},{"v":1.78,"p":0.9895},{"v":1.86,"p":0.992},{"v":1.95,"p":0.995},{"v":2.06,"p":0.9965},{"v":2.18,"p":0.9978},{"v":2.3,"p":0.9982},{"v":2.42,"p":0.999},{"v":2.54,"p":0.9984},{"v":2.66,"p":0.9992},{"v":2.78,"p":0.9984},{"v":2.9,"p":0.9988},{"v":3.02,"p":0.9975},{"v":3.14,"p":0.9974},{"v":3.26,"p":0.996},{"v":3.38,"p":0.9955},{"v":3.5,"p":0.9942},{"v":3.62,"p":0.9932},{"v":3.74,"p":0.9915},{"v":3.86,"p":0.99},{"v":3.97,"p":0.988},{"v":4.07,"p":0.9855},{"v":4.17,"p":0.9825},{"v":4.26,"p":0.979},{"v":4.35,"p":0.975},{"v":4.43,"p":0.971},{"v":4.5,"p":0.9685},{"v":4.57,"p":0.966},{"v":4.63,"p":0.9645},{"v":4.68,"p":0.9638},{"v":4.73,"p":0.965},{"v":4.79,"p":0.9675},{"v":4.85,"p":0.9705},{"v":4.92,"p":0.9735},{"v":4.99,"p":0.976},{"v":5.06,"p":0.9772},{"v":5.13,"p":0.977},{"v":5.19,"p":0.976},{"v":5.24,"p":0.9762},{"v":5.29,"p":0.979},{"v":5.35,"p":0.983},{"v":5.42,"p":0.987},{"v":5.5,"p":0.991},{"v":5.58,"p":0.9935},{"v":5.68,"p":0.995},{"v":5.8,"p":0.9955},{"v":5.92,"p":0.9948},{"v":6.04,"p":0.9955},{"v":6.16,"p":0.9944},{"v":6.28,"p":0.9945},{"v":6.4,"p":0.993},{"v":6.52,"p":0.9932},{"v":6.64,"p":0.9912},{"v":6.76,"p":0.991},{"v":6.88,"p":0.9888},{"v":7,"p":0.9882},{"v":7.12,"p":0.9858},{"v":7.24,"p":0.984},{"v":7.35,"p":0.9812},{"v":7.45,"p":0.9785},{"v":7.55,"p":0.9755},{"v":7.64,"p":0.9725},{"v":7.72,"p":0.9695},{"v":7.8,"p":0.9668},{"v":7.87,"p":0.964},{"v":7.93,"p":0.9622},{"v":7.98,"p":0.9618},{"v":8.04,"p":0.9635},{"v":8.1,"p":0.9665},{"v":8.16,"p":0.97},{"v":8.22,"p":0.9718},{"v":8.28,"p":0.9725},{"v":8.34,"p":0.9728},{"v":8.4,"p":0.9715},{"v":8.46,"p":0.97},{"v":8.51,"p":0.968},{"v":8.56,"p":0.966},{"v":8.6,"p":0.9662},{"v":8.65,"p":0.97},{"v":8.7,"p":0.976},{"v":8.76,"p":0.983},{"v":8.83,"p":0.989},{"v":8.91,"p":0.993},{"v":9,"p":0.995},{"v":9.1,"p":0.9962},{"v":9.2,"p":0.9975},{"v":9.32,"p":0.9985},{"v":9.44,"p":0.9998},{"v":9.56,"p":0.9995},{"v":9.68,"p":1.0012},{"v":9.8,"p":1.0008},{"v":9.92,"p":1.0022},{"v":10.04,"p":1.001},{"v":10.16,"p":1.002},{"v":10.28,"p":1.0006},{"v":10.45,"p":1.0016}],
"cr":[{"v":-10.25,"p":0.9493},{"v":-10,"p":0.9521},{"v":-9.75,"p":0.9497},{"v":-9.5,"p":0.9516},{"v":-9.25,"p":0.9491},{"v":-9,"p":0.9524},{"v":-8.75,"p":0.9495},{"v":-8.5,"p":0.9512},{"v":-8.25,"p":0.9488},{"v":-8,"p":0.951},{"v":-7.75,"p":0.9487},{"v":-7.5,"p":0.9512},{"v":-7.25,"p":0.9491},{"v":-7,"p":0.9508},{"v":-6.75,"p":0.9482},{"v":-6.5,"p":0.9516},{"v":-6.25,"p":0.9485},{"v":-6,"p":0.9506},{"v":-5.75,"p":0.9486},{"v":-5.5,"p":0.9511},{"v":-5.25,"p":0.9479},{"v":-5,"p":0.9509},{"v":-4.75,"p":0.949},{"v":-4.5,"p":0.9514},{"v":-4.25,"p":0.9484},{"v":-4,"p":0.9505},{"v":-3.75,"p":0.9487},{"v":-3.5,"p":0.9515},{"v":-3.25,"p":0.9486},{"v":-3,"p":0.9508},{"v":-2.75,"p":0.948},{"v":-2.5,"p":0.9512},{"v":-2.25,"p":0.949},{"v":-2,"p":0.951},{"v":-1.75,"p":0.9485},{"v":-1.5,"p":0.9504},{"v":-1.25,"p":0.9482},{"v":-1,"p":0.9517},{"v":-0.75,"p":0.9488},{"v":-0.5,"p":0.9509},{"v":-0.25,"p":0.9484},{"v":0,"p":0.9511},{"v":0.25,"p":0.9491},{"v":0.5,"p":0.951},{"v":0.75,"p":0.9488},{"v":1,"p":0.9515},{"v":1.25,"p":0.9484},{"v":1.5,"p":0.9505},{"v":1.75,"p":0.948},{"v":2,"p":0.9509},{"v":2.25,"p":0.9492},{"v":2.5,"p":0.9514},{"v":2.75,"p":0.9486},{"v":3,"p":0.9517},{"v":3.25,"p":0.9487},{"v":3.5,"p":0.9511},{"v":3.75,"p":0.9485},{"v":4,"p":0.9506},{"v":4.25,"p":0.9481},{"v":4.5,"p":0.9509},{"v":4.75,"p":0.9488},{"v":5,"p":0.9512},{"v":5.25,"p":0.9491},{"v":5.5,"p":0.951},{"v":5.75,"p":0.9479},{"v":6,"p":0.9507},{"v":6.25,"p":0.9486},{"v":6.5,"p":0.9508},{"v":6.75,"p":0.9491},{"v":7,"p":0.9515},{"v":7.25,"p":0.9482},{"v":7.5,"p":0.9506},{"v":7.75,"p":0.9487},{"v":8,"p":0.9511},{"v":8.25,"p":0.9494},{"v":8.5,"p":0.9513},{"v":8.75,"p":0.9493},{"v":9,"p":0.9514},{"v":9.25,"p":0.9496},{"v":9.5,"p":0.9518},{"v":9.75,"p":0.9495},{"v":10,"p":0.9519},{"v":10.25,"p":0.9498},{"v":10.45,"p":0.952}],
"cc":[{"k":"1","v":-10.38,"p":1},{"k":"1","v":-8.99,"p":0.9996},{"k":"1","v":-8.36,"p":0.9974},{"k":"1","v":-8.15,"p":0.9905},{"k":"1","v":-8.01,"p":0.981},{"k":"1","v":-7.87,"p":0.9905},{"k":"1","v":-7.66,"p":0.9974},{"k":"1","v":-7.03,"p":0.9996},{"k":"1","v":-5.29,"p":0.9996},{"k":"1","v":-4.66,"p":0.9972},{"k":"1","v":-4.45,"p":0.99},{"k":"1","v":-4.31,"p":0.98},{"k":"1","v":-4.17,"p":0.99},{"k":"1","v":-3.96,"p":0.9972},{"k":"1","v":-3.33,"p":0.9996},{"k":"1","v":-1.75,"p":0.9998},{"k":"1","v":-1.12,"p":0.9983},{"k":"1","v":-0.91,"p":0.994},{"k":"1","v":-0.77,"p":0.988},{"k":"1","v":-0.63,"p":0.994},{"k":"1","v":-0.42,"p":0.9983},{"k":"1","v":0.21,"p":0.9998},{"k":"1","v":0.85,"p":0.9998},{"k":"1","v":1.48,"p":0.9983},{"k":"1","v":1.69,"p":0.994},{"k":"1","v":1.83,"p":0.988},{"k":"1","v":1.97,"p":0.994},{"k":"1","v":2.18,"p":0.9983},{"k":"1","v":2.81,"p":0.9998},{"k":"1","v":4.35,"p":0.9996},{"k":"1","v":4.98,"p":0.9972},{"k":"1","v":5.19,"p":0.99},{"k":"1","v":5.33,"p":0.98},{"k":"1","v":5.47,"p":0.99},{"k":"1","v":5.68,"p":0.9972},{"k":"1","v":6.31,"p":0.9996},{"k":"1","v":7.67,"p":0.9996},{"k":"1","v":8.3,"p":0.9974},{"k":"1","v":8.51,"p":0.9905},{"k":"1","v":8.65,"p":0.981},{"k":"1","v":8.79,"p":0.9905},{"k":"1","v":9,"p":0.9974},{"k":"1","v":9.63,"p":0.9996},{"k":"1","v":10.59,"p":1},
{"k":"2","v":-10.38,"p":1},{"k":"2","v":-8.59,"p":0.9997},{"k":"2","v":-8.015,"p":0.9985},{"k":"2","v":-7.76,"p":0.9945},{"k":"2","v":-7.59,"p":0.989},{"k":"2","v":-7.42,"p":0.9945},{"k":"2","v":-7.165,"p":0.9985},{"k":"2","v":-6.59,"p":0.9997},{"k":"2","v":-5.18,"p":0.9999},{"k":"2","v":-4.605,"p":0.9994},{"k":"2","v":-4.35,"p":0.998},{"k":"2","v":-4.18,"p":0.996},{"k":"2","v":-4.01,"p":0.998},{"k":"2","v":-3.755,"p":0.9994},{"k":"2","v":-3.18,"p":0.9999},{"k":"2","v":-1.84,"p":0.9999},{"k":"2","v":-1.265,"p":0.9993},{"k":"2","v":-1.01,"p":0.9975},{"k":"2","v":-0.84,"p":0.995},{"k":"2","v":-0.67,"p":0.9975},{"k":"2","v":-0.415,"p":0.9993},{"k":"2","v":0.16,"p":0.9999},{"k":"2","v":0.73,"p":0.9998},{"k":"2","v":1.305,"p":0.9992},{"k":"2","v":1.56,"p":0.9973},{"k":"2","v":1.73,"p":0.9945},{"k":"2","v":1.9,"p":0.9973},{"k":"2","v":2.155,"p":0.9992},{"k":"2","v":2.73,"p":0.9998},{"k":"2","v":4.03,"p":0.9999},{"k":"2","v":4.605,"p":0.9993},{"k":"2","v":4.86,"p":0.9975},{"k":"2","v":5.03,"p":0.995},{"k":"2","v":5.2,"p":0.9975},{"k":"2","v":5.455,"p":0.9993},{"k":"2","v":6.03,"p":0.9999},{"k":"2","v":7.37,"p":0.9997},{"k":"2","v":7.945,"p":0.9985},{"k":"2","v":8.2,"p":0.9945},{"k":"2","v":8.37,"p":0.989},{"k":"2","v":8.54,"p":0.9945},{"k":"2","v":8.795,"p":0.9985},{"k":"2","v":9.37,"p":0.9997},{"k":"2","v":10.59,"p":1},
{"k":"3","v":-10.38,"p":1},{"k":"3","v":-7.37,"p":0.9988},{"k":"3","v":-6.92,"p":0.9955},{"k":"3","v":-6.62,"p":0.991},{"k":"3","v":-6.32,"p":0.9955},{"k":"3","v":-5.87,"p":0.9988},{"k":"3","v":-5.12,"p":0.9995},{"k":"3","v":-4.37,"p":0.9995},{"k":"3","v":-3.92,"p":0.9983},{"k":"3","v":-3.62,"p":0.9965},{"k":"3","v":-3.32,"p":0.9983},{"k":"3","v":-2.87,"p":0.9995},{"k":"3","v":-2.18,"p":0.9997},{"k":"3","v":-1.49,"p":0.9996},{"k":"3","v":-1.04,"p":0.9985},{"k":"3","v":-0.74,"p":0.997},{"k":"3","v":-0.44,"p":0.9985},{"k":"3","v":0.01,"p":0.9996},{"k":"3","v":0.37,"p":0.9996},{"k":"3","v":0.73,"p":0.9996},{"k":"3","v":1.18,"p":0.9985},{"k":"3","v":1.48,"p":0.997},{"k":"3","v":1.78,"p":0.9985},{"k":"3","v":2.23,"p":0.9996},{"k":"3","v":2.975,"p":0.9997},{"k":"3","v":3.72,"p":0.9995},{"k":"3","v":4.17,"p":0.9982},{"k":"3","v":4.47,"p":0.9964},{"k":"3","v":4.77,"p":0.9982},{"k":"3","v":5.22,"p":0.9995},{"k":"3","v":5.895,"p":0.9995},{"k":"3","v":6.57,"p":0.9988},{"k":"3","v":7.02,"p":0.9955},{"k":"3","v":7.32,"p":0.991},{"k":"3","v":7.62,"p":0.9955},{"k":"3","v":8.07,"p":0.9988},{"k":"3","v":10.59,"p":1},
{"k":"4","v":-10.38,"p":1},{"k":"4","v":-6.67,"p":0.9996},{"k":"4","v":-6.17,"p":0.9985},{"k":"4","v":-5.82,"p":0.997},{"k":"4","v":-5.47,"p":0.9985},{"k":"4","v":-4.97,"p":0.9996},{"k":"4","v":-4.12,"p":0.9997},{"k":"4","v":-3.62,"p":0.999},{"k":"4","v":-3.27,"p":0.998},{"k":"4","v":-2.92,"p":0.999},{"k":"4","v":-2.42,"p":0.9997},{"k":"4","v":-1.48,"p":0.9998},{"k":"4","v":-0.98,"p":0.9993},{"k":"4","v":-0.63,"p":0.9985},{"k":"4","v":-0.28,"p":0.9993},{"k":"4","v":0.22,"p":0.9998},{"k":"4","v":0.42,"p":0.9998},{"k":"4","v":0.92,"p":0.9993},{"k":"4","v":1.27,"p":0.9985},{"k":"4","v":1.62,"p":0.9993},{"k":"4","v":2.12,"p":0.9998},{"k":"4","v":3.04,"p":0.9997},{"k":"4","v":3.54,"p":0.999},{"k":"4","v":3.89,"p":0.998},{"k":"4","v":4.24,"p":0.999},{"k":"4","v":4.74,"p":0.9997},{"k":"4","v":5.6,"p":0.9996},{"k":"4","v":6.1,"p":0.9988},{"k":"4","v":6.45,"p":0.9975},{"k":"4","v":6.8,"p":0.9988},{"k":"4","v":7.3,"p":0.9996},{"k":"4","v":10.59,"p":1},
{"k":"5","v":-10.38,"p":0.9996},{"k":"5","v":-9,"p":0.9988},{"k":"5","v":-8.095,"p":0.9955},{"k":"5","v":-7.57,"p":0.9838},{"k":"5","v":-7.22,"p":0.9675},{"k":"5","v":-6.87,"p":0.9838},{"k":"5","v":-6.345,"p":0.9955},{"k":"5","v":-5.63,"p":0.9971},{"k":"5","v":-4.915,"p":0.9957},{"k":"5","v":-4.39,"p":0.9845},{"k":"5","v":-4.04,"p":0.969},{"k":"5","v":-3.69,"p":0.9845},{"k":"5","v":-3.165,"p":0.9957},{"k":"5","v":-2.44,"p":0.9977},{"k":"5","v":-1.715,"p":0.9972},{"k":"5","v":-1.19,"p":0.99},{"k":"5","v":-0.84,"p":0.98},{"k":"5","v":-0.49,"p":0.99},{"k":"5","v":0.035,"p":0.9972},{"k":"5","v":0.365,"p":0.997},{"k":"5","v":0.695,"p":0.9974},{"k":"5","v":1.22,"p":0.9905},{"k":"5","v":1.57,"p":0.981},{"k":"5","v":1.92,"p":0.9905},{"k":"5","v":2.445,"p":0.9974},{"k":"5","v":3.16,"p":0.9976},{"k":"5","v":3.875,"p":0.9955},{"k":"5","v":4.4,"p":0.9835},{"k":"5","v":4.75,"p":0.967},{"k":"5","v":5.1,"p":0.9835},{"k":"5","v":5.625,"p":0.9955},{"k":"5","v":6.325,"p":0.997},{"k":"5","v":7.025,"p":0.9957},{"k":"5","v":7.55,"p":0.9845},{"k":"5","v":7.9,"p":0.969},{"k":"5","v":8.25,"p":0.9845},{"k":"5","v":8.775,"p":0.9957},{"k":"5","v":9.7,"p":0.9989},{"k":"5","v":10.59,"p":0.9996},
{"k":"d","v":-10.38,"p":1},{"k":"d","v":-1.2,"p":0.9997},{"k":"d","v":-0.5,"p":0.9987},{"k":"d","v":0,"p":0.9953},{"k":"d","v":0.33,"p":0.9964},{"k":"d","v":0.66,"p":0.9953},{"k":"d","v":1.16,"p":0.9987},{"k":"d","v":1.86,"p":0.9997},{"k":"d","v":10.59,"p":1}],
"cb":[{"v":-8.01,"p":1.0132},{"v":-4.31,"p":1.0132},{"v":-0.77,"p":1.0132},{"v":1.83,"p":1.0132},{"v":5.33,"p":1.0132},{"v":8.65,"p":1.0132},{"v":-7.59,"p":1.0117},{"v":-4.18,"p":1.0117},{"v":-0.84,"p":1.0117},{"v":1.73,"p":1.0117},{"v":5.03,"p":1.0117},{"v":8.37,"p":1.0117},{"v":-6.62,"p":1.0101},{"v":-3.62,"p":1.0101},{"v":-0.74,"p":1.0101},{"v":1.48,"p":1.0101},{"v":4.47,"p":1.0101},{"v":7.32,"p":1.0101},{"v":-5.82,"p":1.0085},{"v":-3.27,"p":1.0085},{"v":-0.63,"p":1.0085},{"v":1.27,"p":1.0085},{"v":3.89,"p":1.0085},{"v":6.45,"p":1.0085},{"v":-7.22,"p":1.0069},{"v":-4.04,"p":1.0069},{"v":-0.84,"p":1.0069},{"v":1.57,"p":1.0069},{"v":4.75,"p":1.0069},{"v":7.9,"p":1.0069},{"v":0,"p":1.0054},{"v":0.66,"p":1.0054}]
},
"hconcat":[
{
"width":950,"height":1064,
"title":{"text":"(a)","orient":"bottom","anchor":"middle","frame":"bounds","baseline":"alphabetic","offset":100,"font":"Liberation Serif","fontSize":76,"fontWeight":"bold","color":"#000"},
"resolve":{"scale":{"x":"independent","y":"independent"}},
"layer":[
{"encoding":{
"x":{"field":"v","type":"quantitative","scale":{"domain":[-10.33,10.5],"nice":false,"zero":false},"axis":{"orient":"bottom","values":[-8,-4,0,4,8],"labelExpr":"replace(replace(format(datum.value, '.1f'), '−', '–'), '-', '–')","grid":false,"tickSize":-7,"labelPadding":49,"labelBaseline":"alphabetic","labelFlush":false,"title":"V, mm/s","titleX":963,"titleY":49,"titleAlign":"left","titleBaseline":"alphabetic","titleAngle":0}},
"y":{"field":"p","type":"quantitative","scale":{"domain":[0.92573,1.01225],"nice":false,"zero":false},"axis":{"orient":"left","values":[0.93,0.94,0.95,0.96,0.97,0.98,0.99,1.0],"format":".2f","grid":true,"gridDash":[13,7],"gridColor":"#222","gridWidth":2,"tickSize":-9,"labelPadding":33,"title":"P, a.u.","titleAngle":0,"titleAlign":"right","titleBaseline":"alphabetic","titleX":-10,"titleY":-23}}
},
"layer":[
{"data":{"name":"ae"},"mark":{"type":"line","color":"#000","strokeWidth":4.5}},
{"data":{"name":"ac"},"mark":{"type":"line","color":"#444","strokeWidth":2,"interpolate":"monotone"},"encoding":{"detail":{"field":"k"}}},
{"data":{"name":"ar"},"mark":{"type":"line","color":"#000","strokeWidth":4}},
{"data":{"name":"ab"},"transform":[{"aggregate":[{"op":"min","field":"v","as":"lo"},{"op":"max","field":"v","as":"hi"}],"groupby":["p"]}],"mark":{"type":"rule","color":"#333","strokeWidth":2.5},"encoding":{"x":{"field":"lo","type":"quantitative","scale":{"domain":[-10.33,10.5],"nice":false,"zero":false}},"x2":{"field":"hi"}}},
{"data":{"name":"ab"},"mark":{"type":"point","shape":"M0,0L0,1","size":256,"filled":false,"color":"#333","strokeWidth":2.5,"opacity":1}}
]},
{"data":{"values":[{"c":-16.6,"n":1.3109},{"c":1037.2,"n":1.434}]},
"mark":{"type":"point","opacity":0},
"encoding":{
"x":{"field":"c","type":"quantitative","scale":{"domain":[-16.6,1037.2],"nice":false,"zero":false},"axis":{"orient":"top","values":[200,400,600,800,1000],"format":"d","grid":true,"gridDash":[5,5],"gridColor":"#222","gridWidth":3,"ticks":false,"tickSize":0,"labelPadding":23,"labelBaseline":"alphabetic","labelFlush":40,"labelFlushOffset":33,"title":"Channels","titleX":963,"titleY":-23,"titleAlign":"left","titleBaseline":"alphabetic","titleAngle":0}},
"y":{"field":"n","type":"quantitative","scale":{"domain":[1.3109,1.434],"nice":false,"zero":false},"axis":{"orient":"right","values":[1.32,1.34,1.36,1.38,1.4,1.42],"format":".2f","grid":false,"tickSize":-9,"labelPadding":19,"title":"N·10⁶, imp","titleAngle":0,"titleAlign":"left","titleBaseline":"alphabetic","titleX":13,"titleY":30}}
}}
]},
{
"width":950,"height":1064,
"title":{"text":"(b)","orient":"bottom","anchor":"middle","frame":"bounds","baseline":"alphabetic","offset":100,"font":"Liberation Serif","fontSize":76,"fontWeight":"bold","color":"#000"},
"resolve":{"scale":{"x":"independent","y":"independent"}},
"layer":[
{"encoding":{
"x":{"field":"v","type":"quantitative","scale":{"domain":[-10.32,10.52],"nice":false,"zero":false},"axis":{"orient":"bottom","values":[-8,-4,0,4,8],"labelExpr":"replace(replace(format(datum.value, '.1f'), '−', '–'), '-', '–')","grid":false,"tickSize":-7,"labelPadding":49,"labelBaseline":"alphabetic","labelFlush":false,"title":"V, mm/s","titleX":963,"titleY":49,"titleAlign":"left","titleBaseline":"alphabetic","titleAngle":0}},
"y":{"field":"p","type":"quantitative","scale":{"domain":[0.94857,1.01148],"nice":false,"zero":false},"axis":{"orient":"left","values":[0.96,0.97,0.98,0.99,1.0],"format":".2f","grid":true,"gridDash":[13,7],"gridColor":"#222","gridWidth":2,"tickSize":-9,"labelPadding":33,"title":"P, a.u.","titleAngle":0,"titleAlign":"right","titleBaseline":"alphabetic","titleX":-10,"titleY":-23}}
},
"layer":[
{"data":{"name":"be"},"mark":{"type":"line","color":"#000","strokeWidth":4.5}},
{"data":{"name":"bc"},"mark":{"type":"line","color":"#444","strokeWidth":2,"interpolate":"monotone"},"encoding":{"detail":{"field":"k"}}},
{"data":{"name":"br"},"mark":{"type":"line","color":"#000","strokeWidth":4}},
{"data":{"name":"bb"},"transform":[{"aggregate":[{"op":"min","field":"v","as":"lo"},{"op":"max","field":"v","as":"hi"}],"groupby":["p"]}],"mark":{"type":"rule","color":"#333","strokeWidth":2.5},"encoding":{"x":{"field":"lo","type":"quantitative","scale":{"domain":[-10.32,10.52],"nice":false,"zero":false}},"x2":{"field":"hi"}}},
{"data":{"name":"bb"},"mark":{"type":"point","shape":"M0,0L0,1","size":256,"filled":false,"color":"#333","strokeWidth":2.5,"opacity":1}}
]},
{"data":{"values":[{"c":-18.5,"n":2.5564},{"c":1037.2,"n":2.727}]},
"mark":{"type":"point","opacity":0},
"encoding":{
"x":{"field":"c","type":"quantitative","scale":{"domain":[-18.5,1037.2],"nice":false,"zero":false},"axis":{"orient":"top","values":[200,400,600,800,1000],"format":"d","grid":true,"gridDash":[5,5],"gridColor":"#222","gridWidth":3,"ticks":false,"tickSize":0,"labelPadding":23,"labelBaseline":"alphabetic","labelFlush":40,"labelFlushOffset":33,"title":"Channels","titleX":963,"titleY":-23,"titleAlign":"left","titleBaseline":"alphabetic","titleAngle":0}},
"y":{"field":"n","type":"quantitative","scale":{"domain":[2.5564,2.727],"nice":false,"zero":false},"axis":{"orient":"right","values":[2.58,2.6,2.62,2.64,2.66,2.68,2.7,2.72],"labelExpr":"datum.value > 2.715 ? '' : format(datum.value, '.2f')","grid":false,"tickSize":-9,"labelPadding":19,"title":"N·10⁶, imp","titleAngle":0,"titleAlign":"left","titleBaseline":"alphabetic","titleX":13,"titleY":30}}
}}
]},
{
"width":950,"height":1064,
"title":{"text":"(c)","orient":"bottom","anchor":"middle","frame":"bounds","baseline":"alphabetic","offset":100,"font":"Liberation Serif","fontSize":76,"fontWeight":"bold","color":"#000"},
"resolve":{"scale":{"x":"independent","y":"independent"}},
"layer":[
{"encoding":{
"x":{"field":"v","type":"quantitative","scale":{"domain":[-10.38,10.59],"nice":false,"zero":false},"axis":{"orient":"bottom","values":[-8,-4,0,4,8],"labelExpr":"replace(replace(format(datum.value, '.1f'), '−', '–'), '-', '–')","grid":false,"tickSize":-7,"labelPadding":49,"labelBaseline":"alphabetic","labelFlush":false,"title":"V, mm/s","titleX":963,"titleY":49,"titleAlign":"left","titleBaseline":"alphabetic","titleAngle":0}},
"y":{"field":"p","type":"quantitative","scale":{"domain":[0.9442,1.0158],"nice":false,"zero":false},"axis":{"orient":"left","values":[0.95,0.96,0.97,0.98,0.99,1.0,1.01],"format":".2f","grid":true,"gridDash":[13,7],"gridColor":"#222","gridWidth":2,"tickSize":-9,"labelPadding":33,"title":"P, a.u.","titleAngle":0,"titleAlign":"right","titleBaseline":"alphabetic","titleX":-10,"titleY":-23}}
},
"layer":[
{"data":{"name":"ce"},"mark":{"type":"line","color":"#000","strokeWidth":4.5}},
{"data":{"name":"cc"},"mark":{"type":"line","color":"#444","strokeWidth":2,"interpolate":"monotone"},"encoding":{"detail":{"field":"k"}}},
{"data":{"name":"cr"},"mark":{"type":"line","color":"#000","strokeWidth":4}},
{"data":{"name":"cb"},"transform":[{"aggregate":[{"op":"min","field":"v","as":"lo"},{"op":"max","field":"v","as":"hi"}],"groupby":["p"]}],"mark":{"type":"rule","color":"#333","strokeWidth":2.5},"encoding":{"x":{"field":"lo","type":"quantitative","scale":{"domain":[-10.38,10.59],"nice":false,"zero":false}},"x2":{"field":"hi"}}},
{"data":{"name":"cb"},"mark":{"type":"point","shape":"M0,0L0,1","size":256,"filled":false,"color":"#333","strokeWidth":2.5,"opacity":1}}
]},
{"data":{"values":[{"c":-20,"n":1.101},{"c":1040.9,"n":1.1855}]},
"mark":{"type":"point","opacity":0},
"encoding":{
"x":{"field":"c","type":"quantitative","scale":{"domain":[-20,1040.9],"nice":false,"zero":false},"axis":{"orient":"top","values":[200,400,600,800,1000],"format":"d","grid":true,"gridDash":[5,5],"gridColor":"#222","gridWidth":3,"ticks":false,"tickSize":0,"labelPadding":23,"labelBaseline":"alphabetic","labelFlush":40,"labelFlushOffset":33,"title":"Channels","titleX":963,"titleY":-23,"titleAlign":"left","titleBaseline":"alphabetic","titleAngle":0}},
"y":{"field":"n","type":"quantitative","scale":{"domain":[1.101,1.1855],"nice":false,"zero":false},"axis":{"orient":"right","values":[1.12,1.14,1.16,1.18],"format":".2f","grid":false,"tickSize":-9,"labelPadding":19,"title":"N·10⁶, imp","titleAngle":0,"titleAlign":"left","titleBaseline":"alphabetic","titleX":13,"titleY":30}}
}}
]}
]
}
